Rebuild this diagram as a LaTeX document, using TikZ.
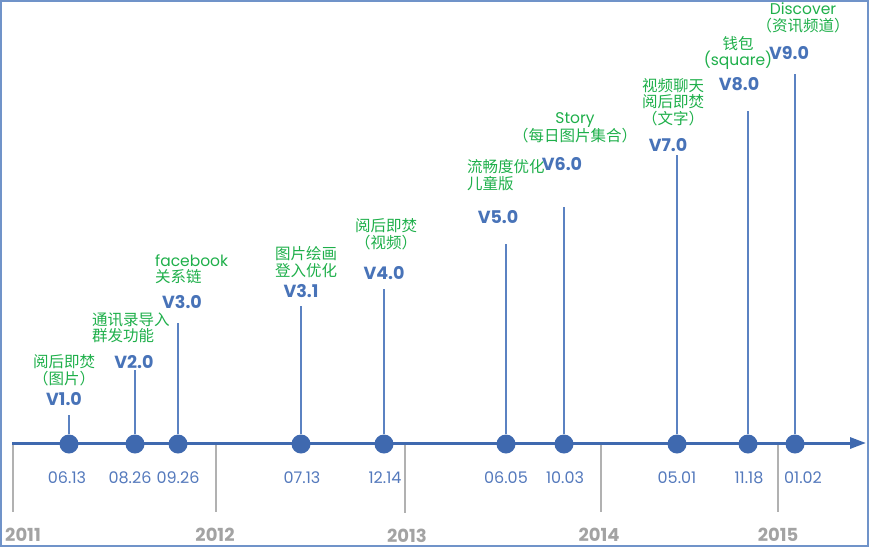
\documentclass[tikz,border=0pt]{standalone}
\usepackage{fontspec}
\setmainfont{Poppins}
\newfontfamily\cjk{Noto Sans CJK SC}
\usetikzlibrary{arrows.meta,positioning}
\definecolor{clAxis}{HTML}{3F69AF}
\definecolor{clStem}{HTML}{5B82C2}
\definecolor{clVersion}{HTML}{4873B8}
\definecolor{clDate}{HTML}{5479BC}
\definecolor{clNote}{HTML}{1EAF4A}
\definecolor{clYear}{HTML}{A3A3A3}
\definecolor{clFrame}{HTML}{7093C9}
\tikzset{
  dot/.style={circle, fill=clAxis, minimum size=19pt, inner sep=0pt},
  stem/.style={draw=clStem, line width=1.4pt},
  version/.style={text=clVersion, font=\fontsize{17.5}{19}\selectfont\bfseries, inner sep=0pt},
  datelabel/.style={text=clDate, font=\fontsize{16}{18}\selectfont, inner sep=0pt},
  note/.style={text=clNote, font=\fontsize{15.5}{16.5}\selectfont\cjk, align=center, inner sep=0pt},
  noteleft/.style={note, align=left, anchor=west},
  year/.style={text=clYear, font=\fontsize{18}{20}\selectfont\bfseries, inner sep=0pt},
  yeartick/.style={draw=clYear!85, line width=1.5pt},
  timeline/.style={draw=clAxis, line width=3pt, -{Triangle[length=16pt, width=11pt]}},
}

\begin{document}
\begin{tikzpicture}[x=1pt, y=-1pt]
  \useasboundingbox (0,0) rectangle (869,547);
  \draw[clFrame, line width=2pt] (1,1) rectangle (868,546);

  % years
  \coordinate (start) at (12,443);
  \coordinate (end) at (866,443);
  \coordinate (tick11) at (13,443);   \coordinate (foot11) at (13,512);
  \coordinate (tick12) at (216,443);  \coordinate (foot12) at (216,512);
  \coordinate (tick13) at (405,443);  \coordinate (foot13) at (405,513);
  \coordinate (tick14) at (601,443);  \coordinate (foot14) at (601,512);
  \coordinate (tick15) at (778,443);  \coordinate (foot15) at (778,512);
  \draw[yeartick] (tick11) -- (foot11);
  \draw[yeartick] (tick12) -- (foot12);
  \draw[yeartick] (tick13) -- (foot13);
  \draw[yeartick] (tick14) -- (foot14);
  \draw[yeartick] (tick15) -- (foot15);
  \node[year] (y2011) at (23,535) {2011};
  \node[year] (y2012) at (215,535) {2012};
  \node[year] (y2013) at (407,536) {2013};
  \node[year] (y2014) at (599,535) {2014};
  \node[year] (y2015) at (778,535) {2015};

  \draw[timeline] (start) -- (end);

  % releases
  \node[dot] (dot10) at (69,444) {};
  \node[dot] (dot20) at (135,444) {};
  \node[dot] (dot30) at (178,444) {};
  \node[dot] (dot31) at (301,444) {};
  \node[dot] (dot40) at (384,444) {};
  \node[dot] (dot50) at (506,444) {};
  \node[dot] (dot60) at (564,444) {};
  \node[dot] (dot70) at (677,444) {};
  \node[dot] (dot80) at (748,444) {};
  \node[dot] (dot90) at (795,444) {};

  \coordinate (top10) at (69,415);
  \coordinate (top20) at (135,370);
  \coordinate (top30) at (178,323);
  \coordinate (top31) at (301,306);
  \coordinate (top40) at (384,289);
  \coordinate (top50) at (506,244);
  \coordinate (top60) at (564,207);
  \coordinate (top70) at (677,155);
  \coordinate (top80) at (748,111);
  \coordinate (top90) at (795,74);
  \draw[stem] (dot10) -- (top10);
  \draw[stem] (dot20) -- (top20);
  \draw[stem] (dot30) -- (top30);
  \draw[stem] (dot31) -- (top31);
  \draw[stem] (dot40) -- (top40);
  \draw[stem] (dot50) -- (top50);
  \draw[stem] (dot60) -- (top60);
  \draw[stem] (dot70) -- (top70);
  \draw[stem] (dot80) -- (top80);
  \draw[stem] (dot90) -- (top90);

  \node[version] (ver10) at (64,399) {V1.0};
  \node[version] (ver20) at (134,362) {V2.0};
  \node[version] (ver30) at (182,302) {V3.0};
  \node[version] (ver31) at (301,291) {V3.1};
  \node[version] (ver40) at (384,273) {V4.0};
  \node[version] (ver50) at (498,217) {V5.0};
  \node[version] (ver60) at (562,164) {V6.0};
  \node[version] (ver70) at (668,145) {V7.0};
  \node[version] (ver80) at (739,84) {V8.0};
  \node[version] (ver90) at (789,53) {V9.0};

  \node[datelabel] (date10) at (67,478) {06.13};
  \node[datelabel] (date20) at (130,478) {08.26};
  \node[datelabel] (date30) at (178,478) {09.26};
  \node[datelabel] (date31) at (302,478) {07.13};
  \node[datelabel] (date40) at (385,478) {12.14};
  \node[datelabel] (date50) at (506,478) {06.05};
  \node[datelabel] (date60) at (565,478) {10.03};
  \node[datelabel] (date70) at (677,478) {05.01};
  \node[datelabel] (date80) at (749,478) {11.18};
  \node[datelabel] (date90) at (803,478) {01.02};

  % features
  \node[note] (note10) at (64,370) {阅后即焚\\（图片）};
  \node[noteleft] (note20) at (92,328) {通讯录导入\\群发功能};
  \node[noteleft] (note30) at (155,269) {{\rmfamily facebook}\\关系链};
  \node[note] (note31) at (306,262) {图片绘画\\登入优化};
  \node[note] (note40) at (386,234) {阅后即焚\\（视频）};
  \node[noteleft] (note50) at (467,175) {流畅度优化\\儿童版};
  \node[note] (note60) at (575,128) {{\rmfamily Story}\\（每日图片集合）};
  \node[note] (note70) at (673,102) {视频聊天\\阅后即焚\\（文字）};
  \node[note] (note80) at (738,53) {钱包\\{\rmfamily (square)}};
  \node[note] (note90) at (803,18) {{\rmfamily Discover}\\（资讯频道）};
\end{tikzpicture}
\end{document}
